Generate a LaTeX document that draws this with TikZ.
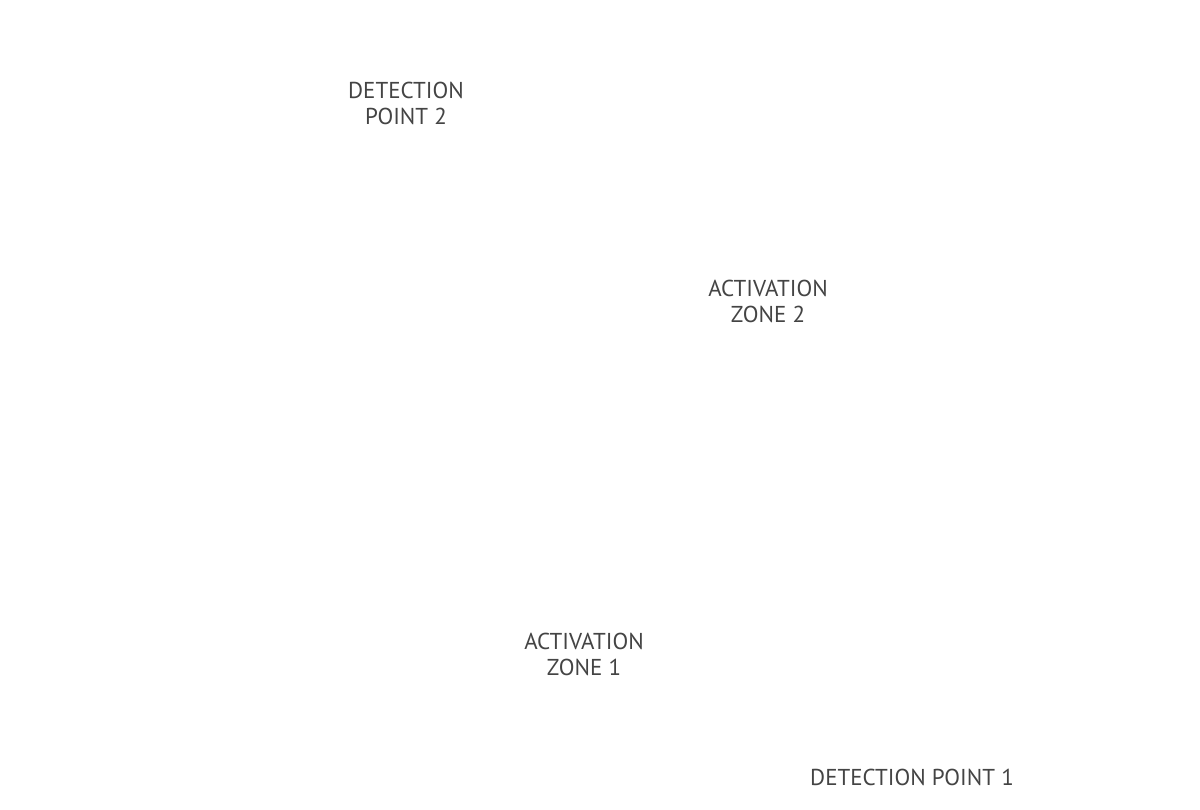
\documentclass[tikz,border=0pt]{standalone}
\usepackage{fontspec}
\setmainfont{PT Sans}
\definecolor{labelgray}{HTML}{444444}
\begin{document}
\begin{tikzpicture}[x=1pt,y=-1pt,
  lbl/.style={text=labelgray,align=center,font=\fontsize{23}{26}\selectfont,inner sep=0pt}]
\useasboundingbox[fill=white] (0,0) rectangle (1200,810);
\node[lbl] (dp2) at (406,103) {DETECTION\\POINT 2};
\node[lbl] (az2) at (768,301) {ACTIVATION\\ZONE 2};
\node[lbl] (az1) at (584,654) {ACTIVATION\\ZONE 1};
\node[lbl] (dp1) at (912,777) {DETECTION POINT 1};
\end{tikzpicture}
\end{document}
